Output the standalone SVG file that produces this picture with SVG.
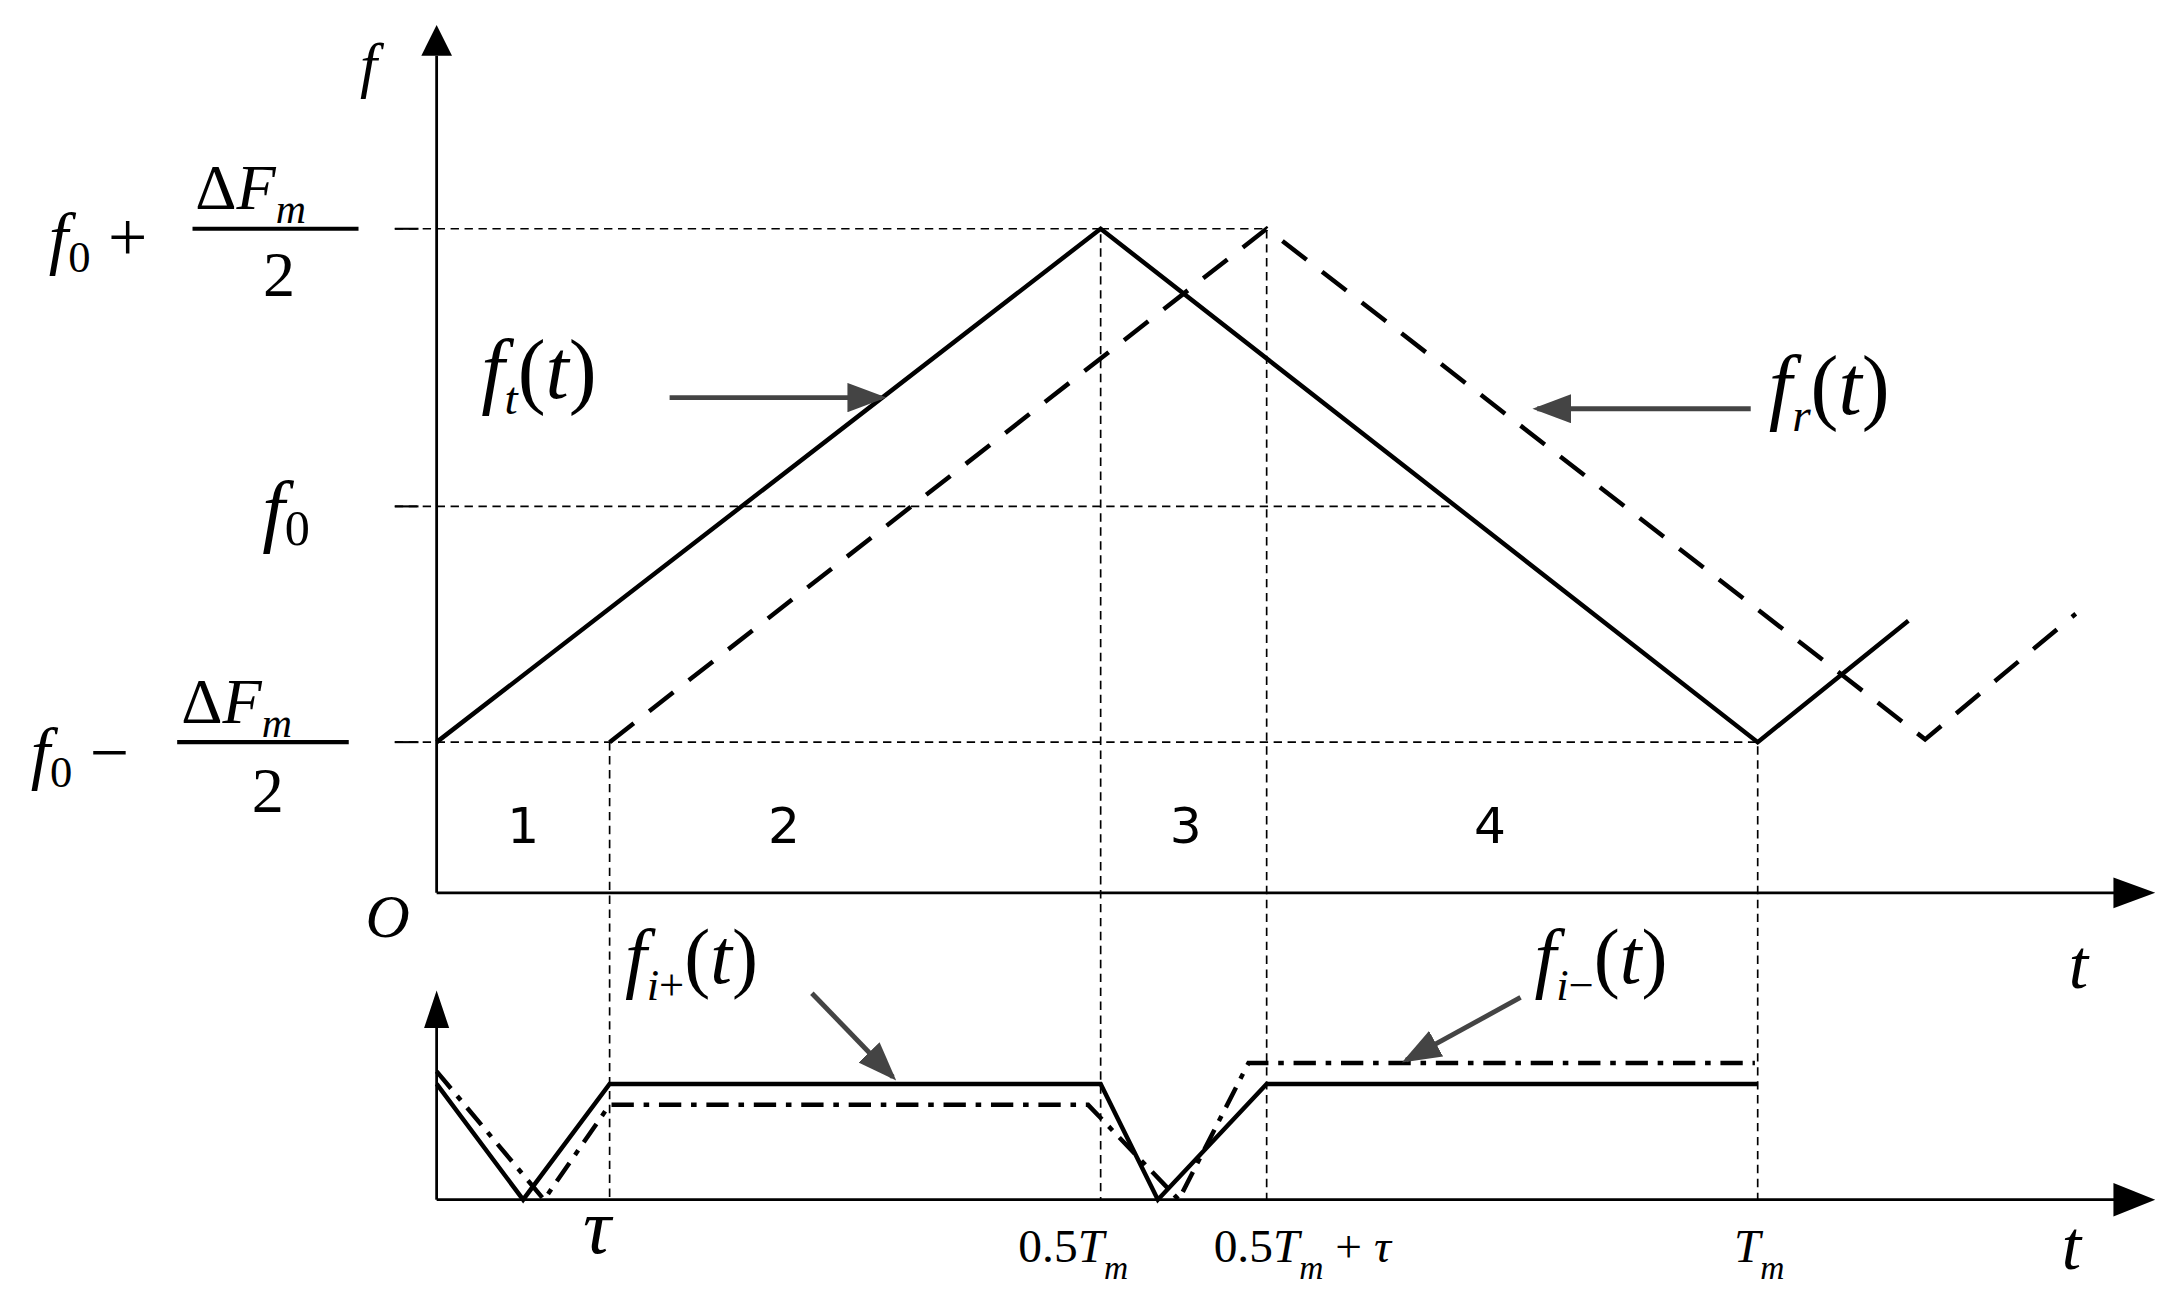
<svg xmlns="http://www.w3.org/2000/svg" width="2176" height="1300" viewBox="0 0 2176 1300">
<style>
.m{font-family:"Liberation Serif",serif;font-style:italic;fill:#000}
.r{font-family:"Liberation Serif",serif;font-style:normal;fill:#000}
.n{font-family:"DejaVu Sans",sans-serif;fill:#000;font-size:36px;text-anchor:middle}
.ax{stroke:#000;stroke-width:2;fill:none}
.gd{stroke:#000;stroke-width:1.2;stroke-dasharray:6,4;fill:none}
.s{stroke:#000;stroke-width:3.2;fill:none}
.d{stroke:#000;stroke-width:3.2;fill:none;stroke-dasharray:22,14}
.dd{stroke:#000;stroke-width:3.2;fill:none;stroke-dasharray:16,7,4,7}
.ar{stroke:#444;stroke-width:3.5;fill:none}
</style>
<defs>
<marker id="gh" markerWidth="8" markerHeight="6" refX="7" refY="3" orient="auto"><path d="M0,0 L8,3 L0,6 Z" fill="#444"/></marker>
</defs>
<rect width="2176" height="1300" fill="#fff"/>
<g transform="scale(1.395)">
<g id="connectors">
<line class="ax" x1="313" y1="640" x2="313" y2="40"/>
<path d="M302,40 L313,18 L324,40 Z"/>
<line class="ax" x1="313" y1="640" x2="1520" y2="640"/>
<path d="M1515,629 L1545,640 L1515,651 Z"/>
<line class="ax" x1="313" y1="860" x2="313" y2="735"/>
<path d="M304,737 L313,710 L322,737 Z"/>
<line class="ax" x1="313" y1="860" x2="1520" y2="860" stroke-width="3"/>
<path d="M1515,848 L1545,860 L1515,872 Z"/>
<path class="gd" d="M283,164 H789 V860 M789,164 H908 V860 M283,363 H1040 M283,532 H1260 V860 M437,532 V860"/>
<line x1="283" y1="164" x2="300" y2="164" stroke="#000" stroke-width="1.5"/>
<line x1="283" y1="363" x2="300" y2="363" stroke="#000" stroke-width="1.5"/>
<line x1="283" y1="532" x2="300" y2="532" stroke="#000" stroke-width="1.5"/>
<polyline id="ft" class="s" points="313,532 789,164 1260,532 1368,445"/>
<polyline id="fr" class="d" points="437,532 908,164 1380,530 1488,440"/>
<polyline class="s" points="313,777 375,860 437,777 789,777 830,860 908,777 1260,777"/>
<polyline class="dd" points="313,768 390,860 437,792 780,792 845,860 895,762 1258,762"/>
<line class="ar" x1="480" y1="285" x2="632" y2="285" marker-end="url(#gh)"/>
<line class="ar" x1="1255" y1="293" x2="1102" y2="293" marker-end="url(#gh)"/>
<line class="ar" x1="582" y1="712" x2="640" y2="772" marker-end="url(#gh)"/>
<line class="ar" x1="1090" y1="715" x2="1008" y2="760" marker-end="url(#gh)"/>
</g>
<g id="labels">
<text class="m" x="258" y="62" font-size="44">f</text>
<text class="m" x="35" y="187" font-size="50">f<tspan class="r" font-size="32" dy="8">0</tspan><tspan class="r" dy="-8" font-size="50"> +</tspan></text>
<text class="r" x="140" y="150" font-size="46">Δ<tspan class="m">F</tspan><tspan class="m" font-size="30" dy="10">m</tspan></text>
<line x1="138" y1="164" x2="257" y2="164" stroke="#000" stroke-width="3"/>
<text class="r" x="200" y="212" font-size="46" text-anchor="middle">2</text>
<text class="m" x="188" y="385" font-size="58">f<tspan class="r" font-size="36" dy="6">0</tspan></text>
<text class="m" x="22" y="556" font-size="50">f<tspan class="r" font-size="32" dy="8">0</tspan><tspan class="r" dy="-8" font-size="50"> −</tspan></text>
<text class="r" x="130" y="518" font-size="46">Δ<tspan class="m">F</tspan><tspan class="m" font-size="30" dy="10">m</tspan></text>
<line x1="127" y1="532" x2="250" y2="532" stroke="#000" stroke-width="3"/>
<text class="r" x="192" y="582" font-size="46" text-anchor="middle">2</text>
<text class="m" x="345" y="285" font-size="60">f<tspan font-size="34" dy="12">t</tspan><tspan class="r" dy="-12">(</tspan>t<tspan class="r">)</tspan></text>
<text class="m" x="1268" y="297" font-size="60">f<tspan font-size="34" dy="12">r</tspan><tspan class="r" dy="-12">(</tspan>t<tspan class="r">)</tspan></text>
<text class="m" x="448" y="705" font-size="56">f<tspan font-size="32" dy="12">i</tspan><tspan class="r" font-size="32">+</tspan><tspan class="r" dy="-12" font-size="56">(</tspan>t<tspan class="r">)</tspan></text>
<text class="m" x="1100" y="705" font-size="56">f<tspan font-size="32" dy="12">i</tspan><tspan class="r" font-size="32">−</tspan><tspan class="r" dy="-12" font-size="56">(</tspan>t<tspan class="r">)</tspan></text>
<text class="n" x="375" y="604">1</text>
<text class="n" x="562" y="604">2</text>
<text class="n" x="850" y="604">3</text>
<text class="n" x="1068" y="604">4</text>
<text class="m" x="262" y="672" font-size="44">O</text>
<text class="m" x="1483" y="708" font-size="50">t</text>
<text class="m" x="1478" y="910" font-size="50">t</text>
<text class="m" x="418" y="898" font-size="56">τ</text>
<text class="r" x="730" y="905" font-size="34">0.5<tspan class="m">T</tspan><tspan class="m" font-size="24" dy="12">m</tspan></text>
<text class="r" x="870" y="905" font-size="34">0.5<tspan class="m">T</tspan><tspan class="m" font-size="24" dy="12">m</tspan><tspan dy="-12"> + </tspan><tspan class="m">τ</tspan></text>
<text class="m" x="1243" y="905" font-size="34">T<tspan font-size="24" dy="12">m</tspan></text>
</g>
</g>
</svg>
